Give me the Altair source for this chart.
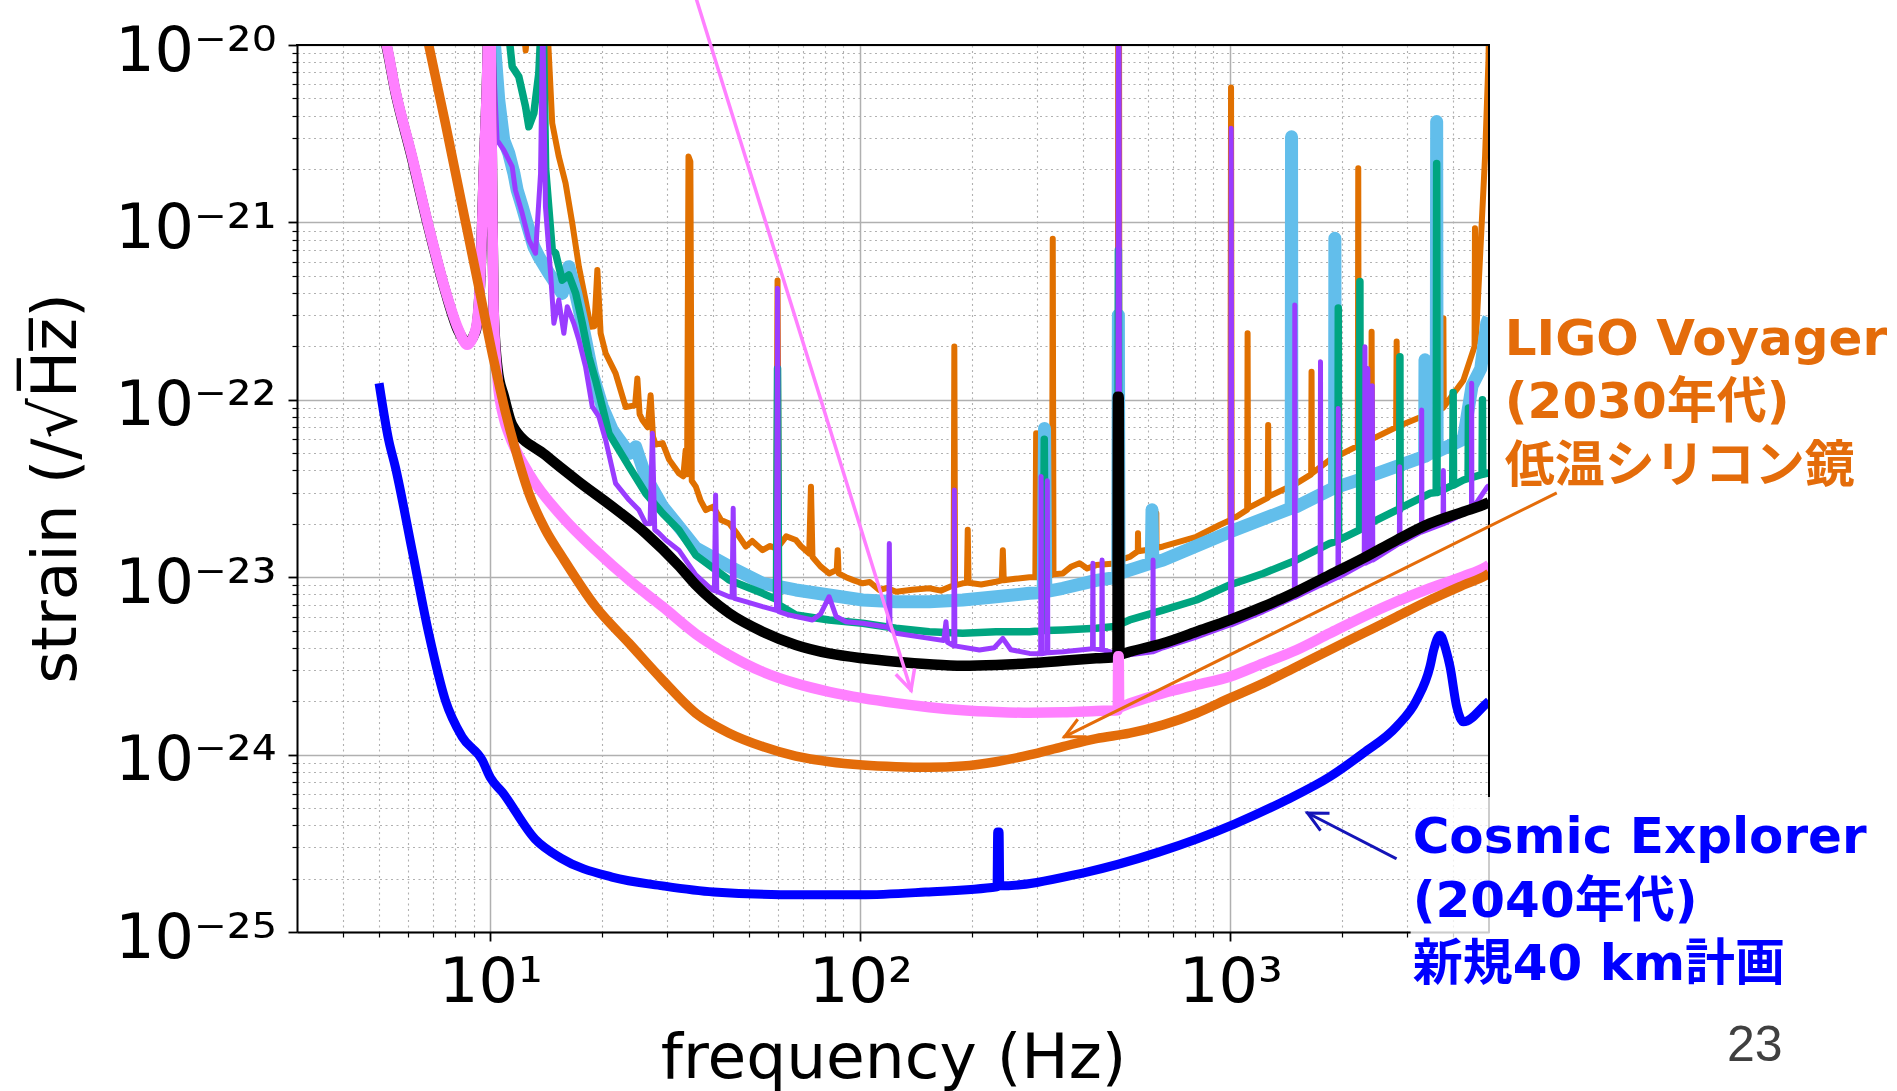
import altair as alt
import pandas as pd

# ---------------- data (frequency in Hz, strain in 1/sqrt(Hz)) ----------------
# aLIGO design sensitivity (black)
ALIGO = [(5.0, 1.3e-20), (5.2, 1.05e-20), (5.53, 5.5e-21), (6.14, 2.3e-21), (6.81, 9.3e-22),
         (7.55, 4.1e-22), (8.21, 2.42e-22), (8.65, 2.1e-22), (9.11, 2.42e-22), (9.40, 5.1e-22),
         (9.59, 1.9e-21), (9.80, 6.9e-21), (9.95, 3e-20), (10.05, 5e-21), (10.12, 1.2e-21),
         (10.2, 3.2e-22), (10.45, 1.5e-22), (10.88, 1.04e-22), (11.45, 7.21e-23), (14.08, 4.88e-23),
         (17.34, 3.45e-23), (21.35, 2.5e-23), (26.27, 1.77e-23), (32.3, 1.16e-23), (35.9, 9.04e-24),
         (44.2, 6.26e-24), (54.4, 4.93e-24), (66.9, 4.15e-24), (82.3, 3.72e-24), (101.4, 3.49e-24),
         (124.8, 3.34e-24), (153.5, 3.23e-24), (189.0, 3.17e-24), (232.6, 3.2e-24), (286.3, 3.27e-24),
         (352.5, 3.38e-24), (433.8, 3.49e-24), (495.0, 3.55e-24), (496.5, 1.04e-22), (499.0, 1.04e-22),
         (501.5, 3.66e-24), (534.0, 3.8e-24), (657.6, 4.24e-24), (809.0, 4.93e-24), (995.7, 5.74e-24),
         (1226.0, 6.82e-24), (1509.0, 8.29e-24), (1856.0, 1.03e-23), (2287.0, 1.28e-23),
         (2814.0, 1.62e-23), (3463.0, 2.01e-23), (4264.0, 2.34e-23), (4930.0, 2.61e-23),
         (5000.0, 2.65e-23)]

# A+ (pink)
APLUS = [(5.0, 1.3e-20), (5.2, 1.07e-20), (5.53, 5.58e-21), (6.14, 2.35e-21), (6.81, 9.46e-22),
         (7.55, 4.16e-22), (8.21, 2.47e-22), (8.65, 2.04e-22), (9.11, 2.47e-22), (9.40, 5.19e-22),
         (9.59, 1.9e-21), (9.80, 6.95e-21), (9.95, 3e-20), (10.05, 5e-21), (10.12, 1.2e-21),
         (10.2, 3.2e-22), (10.45, 1.3e-22), (10.9, 7.7e-23), (11.2, 6.47e-23), (12.7, 3.85e-23),
         (15.63, 2.19e-23), (19.24, 1.42e-23), (23.7, 9.64e-24), (29.2, 6.82e-24), (35.9, 4.79e-24),
         (44.2, 3.64e-24), (54.4, 2.93e-24), (66.9, 2.52e-24), (82.3, 2.26e-24), (101.4, 2.08e-24),
         (124.8, 1.95e-24), (153.5, 1.85e-24), (189.0, 1.78e-24), (232.6, 1.74e-24), (286.3, 1.72e-24),
         (352.5, 1.73e-24), (433.8, 1.76e-24), (496.0, 1.78e-24), (497.5, 3.58e-24), (499.0, 3.58e-24),
         (500.5, 1.85e-24), (534.0, 1.94e-24), (657.6, 2.22e-24), (809.0, 2.47e-24), (995.7, 2.75e-24),
         (1226.0, 3.27e-24), (1509.0, 3.89e-24), (1856.0, 4.83e-24), (2287.0, 5.99e-24),
         (2814.0, 7.28e-24), (3463.0, 8.66e-24), (4264.0, 1.01e-23), (4930.0, 1.15e-23), (5000.0, 1.17e-23)]

# LIGO Voyager (thick orange)
VOYAGER = [(6.5, 1.6e-20), (6.81, 1.0e-20), (7.55, 3.63e-21), (8.38, 1.25e-21), (9.3, 4.32e-22),
           (10.2, 1.68e-22), (10.98, 8.53e-23), (11.63, 5.42e-23), (12.7, 2.98e-23), (14.08, 1.85e-23),
           (15.63, 1.3e-23), (19.24, 6.82e-24), (23.7, 4.24e-24), (29.2, 2.63e-24), (35.9, 1.71e-24),
           (44.2, 1.32e-24), (54.4, 1.11e-24), (66.9, 9.8e-25), (82.3, 9.12e-25), (101.4, 8.74e-25),
           (124.8, 8.55e-25), (153.5, 8.48e-25), (189.0, 8.62e-25), (232.6, 9.12e-25), (286.3, 9.95e-25),
           (352.5, 1.11e-24), (433.8, 1.23e-24), (534.0, 1.32e-24), (657.6, 1.47e-24), (809.0, 1.71e-24),
           (995.7, 2.08e-24), (1226.0, 2.52e-24), (1509.0, 3.13e-24), (1856.0, 3.89e-24),
           (2287.0, 4.83e-24), (2814.0, 5.99e-24), (3463.0, 7.44e-24), (4264.0, 9.04e-24),
           (4930.0, 1.03e-23), (5000.0, 1.05e-23)]

# Cosmic Explorer (blue)
CE = [(5.0, 1.24e-22), (5.31, 5.9e-23), (5.53, 4.2e-23), (6.14, 1.42e-23), (6.81, 4.83e-24),
      (7.55, 2.03e-24), (8.38, 1.26e-24), (9.5, 9.3e-25), (10.0, 7.4e-25), (10.76, 6.15e-25),
      (13.2, 3.34e-25), (15.5, 2.61e-25), (21.3, 2.04e-25), (29.2, 1.82e-25), (40.1, 1.68e-25),
      (68.5, 1.62e-25), (100.0, 1.62e-25), (150.0, 1.68e-25), (234.0, 1.8e-25), (235.0, 3.66e-25),
      (237.0, 3.66e-25), (238.0, 1.82e-25), (399.0, 2.15e-25), (640.0, 2.82e-25), (1025.0, 4.06e-25),
      (1418.0, 5.55e-25), (1856.0, 7.5e-25), (2287.0, 1.02e-24), (2814.0, 1.44e-24), (3188.0, 2.03e-24),
      (3463.0, 3.13e-24), (3544.0, 3.89e-24), (3686.0, 4.7e-24), (3825.0, 3.89e-24), (3923.0, 3.13e-24),
      (4090.0, 1.86e-24), (4264.0, 1.53e-24), (4930.0, 1.95e-24), (5000.0, 2.0e-24)]

# measured spectrum (thin orange)
MEAS_ORANGE = [(12.2, 1.5e-20), (12.45, 9.3e-21), (12.7, 1.5e-20), (14.2, 1.5e-20), (14.69, 3.62e-21),
    (15.3, 2.35e-21), (15.96, 1.66e-21), (16.64, 9.9e-22), (17.34, 5.63e-22), (18.07, 3.65e-22),
    (18.65, 2.58e-22), (19.1, 2.6e-22), (19.45, 5.39e-22), (19.85, 2.37e-22), (20.48, 1.83e-22),
    (21.79, 1.41e-22), (23.2, 9.1e-23), (24.6, 9.3e-23), (24.95, 1.32e-22), (25.3, 8.3e-23),
    (25.74, 7.7e-23), (26.6, 7.0e-23), (27.1, 1.06e-22), (27.5, 6.2e-23), (27.96, 5.6e-23),
    (29.2, 5.7e-23), (30.4, 4.6e-23), (32.3, 3.85e-23), (33.2, 3.7e-23), (33.7, 5.2e-23),
    (34.0, 3.8e-23), (34.3, 2.35e-21), (34.7, 2.2e-21), (35.0, 3.5e-23), (35.9, 3.24e-23),
    (37.0, 2.7e-23), (38.2, 2.39e-23), (40.0, 2.5e-23), (42.0, 2.1e-23), (44.2, 2.01e-23),
    (46.5, 1.75e-23), (49.0, 1.49e-23), (51.0, 1.6e-23), (54.4, 1.42e-23), (57.0, 1.5e-23),
    (59.2, 1.45e-23), (59.7, 4.7e-22), (60.2, 1.5e-23), (63.0, 1.7e-23), (66.9, 1.62e-23),
    (69.0, 1.5e-23), (72.7, 1.36e-23), (73.5, 3.24e-23), (74.2, 1.3e-23), (78.0, 1.15e-23),
    (82.3, 1.05e-23), (86.3, 1.1e-23), (86.8, 1.42e-23), (87.3, 1.05e-23), (91.4, 1.0e-23),
    (96.0, 9.6e-24), (101.4, 9.24e-24), (106.0, 9.4e-24), (112.4, 8.47e-24), (118.0, 8.7e-24),
    (124.8, 8.29e-24), (138.0, 8.5e-24), (153.5, 8.66e-24), (165.0, 8.4e-24),
    (178.6, 9.0e-24), (179.4, 2.0e-22), (180.2, 9.0e-24), (189.0, 9.24e-24), (194.0, 9.3e-24),
    (195.0, 1.85e-23), (196.0, 9.3e-24), (212.0, 9.1e-24), (232.6, 9.43e-24), (241.0, 9.6e-24),
    (242.6, 1.42e-23), (244.0, 9.6e-24), (262.0, 9.8e-24), (286.3, 1.0e-23), (297.0, 1.0e-23),
    (298.5, 6.47e-23), (300.0, 1.0e-23), (329.5, 1.03e-23), (331.0, 8.1e-22), (332.5, 1.04e-23),
    (352.5, 1.05e-23), (372.0, 1.15e-23), (391.0, 1.2e-23), (410.0, 1.12e-23),
    (433.8, 1.17e-23), (496.0, 1.2e-23), (497.5, 2.0e-20), (500.0, 2.0e-20), (501.5, 1.25e-23),
    (534.0, 1.3e-23), (562.0, 1.4e-23), (562.6, 1.77e-23), (563.5, 1.4e-23), (630.0, 1.45e-23),
    (630.6, 2.29e-23), (631.5, 1.46e-23), (657.6, 1.49e-23), (809.0, 1.69e-23), (935.0, 1.97e-23),
    (1000.0, 2.1e-23), (1004.0, 5.76e-21), (1008.0, 2.15e-23), (1038.0, 2.19e-23), (1110.0, 2.4e-23),
    (1113.0, 2.37e-22), (1116.0, 2.45e-23), (1262.0, 2.8e-23), (1265.0, 7.21e-23), (1268.0, 2.85e-23),
    (1509.0, 3.38e-23), (1653.0, 3.8e-23), (1657.0, 1.44e-22), (1661.0, 3.85e-23), (1856.0, 4.58e-23),
    (2210.0, 5.5e-23), (2216.0, 2.02e-21), (2222.0, 5.55e-23), (2287.0, 5.69e-23), (2402.0, 6.0e-23),
    (2408.0, 2.42e-22), (2414.0, 6.0e-23), (2805.0, 7.0e-23), (2814.0, 2.13e-22), (2823.0, 7.05e-23),
    (3463.0, 8.39e-23), (3755.0, 9.0e-23), (3764.0, 2.88e-22), (3773.0, 9.1e-23), (4264.0, 1.29e-22),
    (4570.0, 2.0e-22), (4582.0, 9.26e-22), (4594.0, 2.1e-22), (4633.0, 2.71e-22), (4879.0, 2.35e-21),
    (4984.0, 8.23e-21), (5000.0, 1.2e-20)]

# measured spectrum (sky blue)
MEAS_SKY = [(10.0, 2e-20), (10.53, 4.9e-21), (10.86, 2.91e-21), (11.21, 2.45e-21), (11.57, 1.89e-21),
    (11.81, 1.52e-21), (12.18, 1.23e-21), (12.7, 9.06e-22), (13.1, 7.3e-22), (13.51, 6.41e-22),
    (14.38, 5.17e-22), (15.0, 4.54e-22), (15.63, 3.98e-22), (16.29, 5.63e-22), (17.0, 3.98e-22),
    (17.71, 2.7e-22), (18.85, 1.41e-22), (20.06, 9.14e-23), (21.35, 6.76e-23), (23.7, 4.99e-23),
    (24.69, 5.44e-23), (26.27, 3.69e-23), (29.2, 2.5e-23), (32.3, 1.93e-23), (35.9, 1.46e-23),
    (44.2, 1.15e-23), (54.4, 9.24e-24), (66.9, 8.47e-24), (82.3, 7.94e-24), (101.4, 7.44e-24),
    (124.8, 7.28e-24), (153.5, 7.28e-24), (189.0, 7.44e-24), (232.6, 7.76e-24), (286.3, 8.11e-24),
    (312.0, 8.2e-24), (314.5, 6.89e-23), (317.0, 8.3e-24), (352.5, 8.66e-24), (433.8, 9.6e-24),
    (496.0, 1.0e-23), (498.0, 3.0e-22), (500.0, 1.05e-23), (611.0, 1.2e-23), (614.0, 2.4e-23),
    (617.0, 1.2e-23), (657.6, 1.25e-23), (995.7, 1.8e-23), (1460.0, 2.45e-23), (1463.0, 3.04e-21),
    (1466.0, 2.5e-23), (1509.0, 2.5e-23), (1912.0, 3.2e-23), (1916.0, 8.13e-22), (1920.0, 3.2e-23),
    (2287.0, 3.61e-23), (3350.0, 4.8e-23), (3357.0, 1.68e-22), (3364.0, 4.8e-23), (3463.0, 4.99e-23),
    (3600.0, 5.1e-23), (3610.0, 3.7e-21), (3620.0, 5.1e-23), (4264.0, 6.0e-23), (4500.0, 1.2e-22),
    (4750.0, 1.5e-22), (4930.0, 2.7e-22), (5000.0, 2.9e-22)]

# measured spectrum (green)
MEAS_GREEN = [(10.9, 2e-20), (11.45, 7.55e-21), (11.93, 6.63e-21), (12.44, 4.49e-21), (12.7, 3.46e-21),
    (13.1, 4.12e-21), (13.51, 6.92e-21), (13.85, 2e-20), (14.1, 2.0e-21), (14.69, 6.99e-22),
    (15.0, 6.7e-22), (15.63, 4.73e-22), (16.29, 5.05e-22), (17.0, 3.98e-22), (17.71, 2.7e-22),
    (18.45, 1.75e-22), (19.24, 1.29e-22), (20.06, 9.14e-23), (20.9, 6.47e-23), (23.7, 4.2e-23),
    (26.27, 2.97e-23), (29.2, 2.29e-23), (32.3, 1.85e-23), (35.9, 1.33e-23), (44.2, 9.64e-24),
    (54.4, 8.11e-24), (59.3, 7.5e-24), (59.7, 1.5e-22), (60.1, 7.0e-24), (66.9, 6.12e-24),
    (82.3, 5.74e-24), (101.4, 5.5e-24), (124.8, 5.15e-24), (153.5, 4.93e-24), (189.0, 4.83e-24),
    (232.6, 4.93e-24), (286.3, 4.93e-24), (312.0, 5.0e-24), (314.0, 6.0e-23), (316.0, 5.0e-24),
    (352.5, 5.04e-24), (433.8, 5.15e-24), (496.0, 5.3e-24), (498.0, 7.0e-22), (500.0, 5.4e-24),
    (534.0, 5.74e-24), (657.6, 6.53e-24), (809.0, 7.44e-24), (995.7, 9.04e-24), (1226.0, 1.05e-23),
    (1509.0, 1.25e-23), (1856.0, 1.55e-23), (1953.0, 1.6e-23), (1957.0, 3.29e-22), (1961.0, 1.62e-23),
    (2235.0, 1.85e-23), (2239.0, 4.64e-22), (2243.0, 1.9e-23), (2287.0, 1.93e-23), (2814.0, 2.39e-23),
    (2868.0, 2.4e-23), (2872.0, 1.75e-22), (2876.0, 2.45e-23), (3463.0, 2.97e-23), (3600.0, 3.0e-23),
    (3610.0, 2.15e-21), (3620.0, 3.0e-23), (3990.0, 3.3e-23), (4000.0, 1.1e-22), (4010.0, 3.3e-23),
    (4264.0, 3.53e-23), (4390.0, 3.6e-23), (4400.0, 9.0e-23), (4410.0, 3.6e-23), (4790.0, 3.8e-23),
    (4800.0, 1.0e-22), (4810.0, 3.8e-23), (4930.0, 3.85e-23), (5000.0, 3.9e-23)]

# measured spectrum (purple)
MEAS_PURPLE = [(10.0, 2e-20), (10.42, 2.91e-21), (10.86, 2.56e-21), (11.45, 2.06e-21), (11.68, 1.52e-21),
    (12.18, 1.13e-21), (12.7, 7.96e-22), (13.24, 6.7e-22), (13.66, 1.89e-21), (13.85, 1.5e-20),
    (14.08, 1.23e-21), (14.54, 5.17e-22), (14.84, 2.7e-22), (15.3, 3.65e-22), (15.79, 2.37e-22),
    (16.13, 3.35e-22), (16.8, 2.7e-22), (17.34, 2.17e-22), (18.07, 1.54e-22), (18.85, 9.14e-23),
    (19.64, 8.03e-23), (20.48, 5.93e-23), (21.79, 3.38e-23), (23.7, 2.72e-23), (25.2, 2.39e-23),
    (26.27, 2.01e-23), (27.0, 2.0e-23), (27.4, 6.47e-23), (27.8, 1.85e-23), (28.54, 1.77e-23),
    (29.76, 1.62e-23), (32.3, 1.42e-23), (35.9, 1.03e-23), (39.8, 8.47e-24), (40.3, 8.4e-24),
    (40.6, 2.91e-23), (40.9, 8.3e-24), (44.2, 7.76e-24), (45.0, 7.7e-24), (45.3, 2.45e-23),
    (45.6, 7.6e-24), (49.0, 7.28e-24), (54.4, 6.82e-24), (59.3, 6.5e-24), (59.7, 4.25e-22),
    (60.1, 6.4e-24), (64.2, 6.12e-24), (74.2, 5.74e-24), (78.0, 6.2e-24), (82.3, 7.76e-24),
    (86.0, 6.0e-24), (91.4, 5.61e-24), (101.4, 5.5e-24), (119.2, 5.2e-24), (119.7, 1.55e-23),
    (120.2, 5.1e-24), (124.8, 4.83e-24), (153.5, 4.52e-24), (168.0, 4.4e-24), (170.3, 5.61e-24),
    (172.0, 4.3e-24), (178.8, 4.1e-24), (179.4, 3.1e-23), (180.0, 4.1e-24), (209.7, 3.89e-24),
    (230.0, 4.0e-24), (242.6, 4.52e-24), (255.0, 3.9e-24), (286.3, 3.72e-24), (307.0, 3.7e-24),
    (307.9, 3.69e-23), (309.0, 3.7e-24), (319.0, 3.75e-24), (320.0, 3.5e-23), (321.0, 3.75e-24),
    (352.5, 3.8e-24), (424.0, 3.95e-24), (425.0, 1.2e-23), (426.0, 3.95e-24), (449.0, 3.9e-24),
    (450.0, 1.25e-23), (451.0, 3.9e-24), (496.0, 3.7e-24), (498.0, 2.0e-20), (500.0, 2.0e-20),
    (502.0, 3.6e-24), (617.0, 3.8e-24), (618.0, 1.25e-23), (619.0, 3.8e-24), (657.6, 4.0e-24),
    (809.0, 4.6e-24), (1001.0, 5.4e-24), (1005.0, 3.39e-21), (1009.0, 5.4e-24), (1226.0, 6.4e-24),
    (1489.0, 7.7e-24), (1493.0, 3.42e-22), (1497.0, 7.7e-24), (1748.0, 9.0e-24), (1752.0, 1.64e-22),
    (1756.0, 9.0e-24), (1953.0, 1.0e-23), (1957.0, 8.93e-23), (1961.0, 1.0e-23), (2300.0, 1.2e-23),
    (2310.0, 1.99e-22), (2320.0, 1.2e-23), (2345.0, 1.22e-23), (2352.0, 1.5e-22), (2360.0, 1.22e-23),
    (2410.0, 1.25e-23), (2418.0, 1.2e-22), (2426.0, 1.25e-23), (2862.0, 1.55e-23), (2868.0, 4.2e-23),
    (2874.0, 1.55e-23), (3284.0, 1.8e-23), (3289.0, 8.76e-23), (3294.0, 1.8e-23), (3756.0, 2.0e-23),
    (3764.0, 4.0e-23), (3772.0, 2.0e-23), (4484.0, 2.4e-23), (4489.0, 1.24e-22), (4494.0, 2.4e-23),
    (4930.0, 3.2e-23), (5000.0, 3.3e-23)]

# axis ticks
X_TICKS = [4, 5, 6, 7, 8, 9, 10, 20, 30, 40, 50, 60, 70, 80, 90, 100, 200, 300, 400, 500,
           600, 700, 800, 900, 1000, 2000, 3000, 4000]
Y_DECADES = [1e-25, 1e-24, 1e-23, 1e-22, 1e-21]
Y_MULT = [1, 2, 3, 4, 5, 6, 7, 8, 9]
Y_TICKS = [m * d for d in Y_DECADES for m in Y_MULT] + [1e-20]

# annotations: (freq, strain) anchors
ANN_VOYAGER = (5515, 1.789e-22, ["LIGO Voyager", "(2030年代)", "低温シリコン鏡"])
ANN_CE = (3109, 2.788e-25, ["Cosmic Explorer", "(2040年代)", "新規40 km計画"])
ANN_PAGE = (21996, 1.875e-26, "23")
ARROW_PINK = [(35.4, 2.04e-20), (137.0, 2.31e-24)]
ARROW_ORANGE = [(7558.0, 2.96e-23), (356.1, 1.26e-24)]
ARROW_BLUE = [(2790.0, 2.61e-25), (1616.0, 4.69e-25)]
LEGEND_BOX = (3070, 9000, 7e-26, 5.77e-25)
SPINE_TOP = [(3, 1e-20), (5000, 1e-20)]
SPINE_RIGHT = [(5000, 1e-25), (5000, 1e-20)]

# ---------------- chart ----------------
W, H = 1192, 887
FONT = "DejaVu Sans"
JFONT = "DejaVu Sans, Noto Sans CJK JP"
MAJOR = "abs(log(datum.value)/LN10 - round(log(datum.value)/LN10)) < 0.01"


def cond(a, b):
    return {"condition": {"test": MAJOR, "value": a}, "value": b}


def lg(e):
    return "abs(log(datum.value)/LN10 + %d) < 0.01" % e


SUP = {20: "⁻²⁰", 21: "⁻²¹", 22: "⁻²²", 23: "⁻²³", 24: "⁻²⁴", 25: "⁻²⁵"}
y_label_expr = " : ".join("%s ? '10%s'" % (lg(e), s) for e, s in SUP.items()) + " : ''"
x_label_expr = ("datum.value == 10 ? '10¹' : datum.value == 100 ? '10²' : "
                "datum.value == 1000 ? '10³' : ''")

common_axis = dict(
    labelFont=FONT, labelFontSize=62, labelColor="black", labelOverlap=False,
    labelFlush=False, labelBound=False, labelLimit=600,
    tickColor="black", tickSize=cond(9, 5), tickWidth=cond(1.8, 1.2),
    grid=True, gridColor="#b0b0b0", gridWidth=cond(1.5, 1.1), gridDash=cond([], [2, 3.5]),
    domainColor="black", domainWidth=2, zindex=0,
    titleFont=FONT, titleFontSize=63, titleFontWeight="normal", titleColor="black",
    titleLimit=2000,
)

x_axis = alt.Axis(values=X_TICKS, labelExpr=x_label_expr, title="frequency (Hz)",
                  labelBaseline="alphabetic", labelPadding=60,
                  titleBaseline="alphabetic", titleY=145, **common_axis)
y_axis = alt.Axis(values=Y_TICKS, labelExpr=y_label_expr, title="strain (/\u221aH\u0305z\u0305)",
                  labelAlign="right", labelBaseline="alphabetic", labelOffset=25, labelPadding=12,
                  titleAngle=270, titleAlign="center", titleBaseline="alphabetic",
                  titleX=-222, titleY=443, **common_axis)

xs = alt.Scale(type="log", domain=[3, 5000], nice=False)
ys = alt.Scale(type="log", domain=[1e-25, 1e-20], nice=False)


def X(field="f"):
    return alt.X(f"{field}:Q", scale=xs, axis=x_axis)


def Y(field="h"):
    return alt.Y(f"{field}:Q", scale=ys, axis=y_axis)


def frame(pairs):
    return pd.DataFrame({"f": [p[0] for p in pairs], "h": [p[1] for p in pairs],
                         "i": list(range(len(pairs)))})


def curve(pairs, color, width, smooth=False):
    kw = dict(interpolate="monotone") if smooth else {}
    return alt.Chart(frame(pairs)).mark_line(
        color=color, strokeWidth=width, clip=True, strokeJoin="round", strokeCap="butt", **kw
    ).encode(x=X(), y=Y(), order=alt.Order("i:Q"))


def segment(pairs, color, width):
    return alt.Chart(frame(pairs)).mark_line(
        color=color, strokeWidth=width, clip=False, strokeCap="square"
    ).encode(x=X(), y=Y(), order=alt.Order("i:Q"))


CHEVRON = "M -1 -0.5 L 0 0 L -1 0.5"


def arrow(pairs, color, width, angle):
    line = segment(pairs, color, width)
    head = alt.Chart(frame(pairs[1:])).mark_point(
        shape=CHEVRON, filled=False, stroke=color, strokeWidth=width, size=1550,
        angle=angle, opacity=1, clip=False, strokeJoin="miter").encode(x=X(), y=Y())
    return [line, head]


def label(ann, color, size, font, weight):
    f, h, txt = ann
    return alt.Chart(frame([(f, h)])).mark_text(
        text=txt, color=color, fontSize=size, font=font, fontWeight=weight,
        align="left", baseline="alphabetic", lineHeight=63.5, clip=False
    ).encode(x=X(), y=Y())


bx = LEGEND_BOX
box = alt.Chart(pd.DataFrame({"f": [bx[0]], "f2": [bx[1]], "h": [bx[2]], "h2": [bx[3]]})).mark_rect(
    fill="white", opacity=0.8, clip=False).encode(x=X(), x2="f2:Q", y=Y(), y2="h2:Q")

ORANGE_TXT = "#E46C0A"
layers = [
    curve(MEAS_ORANGE, "#E07000", 6),
    curve(MEAS_SKY, "#62BEEB", 13),
    curve(MEAS_GREEN, "#00A580", 7.5),
    curve(MEAS_PURPLE, "#9A3CFF", 5),
    curve(ALIGO, "black", 10.5, smooth=True),
    curve(APLUS, "#FF80FF", 10.5, smooth=True),
    curve(VOYAGER, "#E36C0A", 9.5, smooth=True),
    curve(CE, "#0000FF", 9, smooth=True),
    segment(SPINE_TOP, "black", 2),
    segment(SPINE_RIGHT, "black", 2),
    box,
]
layers += arrow(ARROW_PINK, "#FF80FF", 3.5, 72.8)
layers += arrow(ARROW_ORANGE, ORANGE_TXT, 3, 153.6)
layers += arrow(ARROW_BLUE, "#1414B8", 3, 207.2)
layers += [
    label(ANN_VOYAGER, ORANGE_TXT, 50, JFONT, "bold"),
    label(ANN_CE, "#0000FF", 50, JFONT, "bold"),
    label(ANN_PAGE, "#404040", 50, "Liberation Sans", "normal"),
]

chart = alt.layer(*layers).properties(
    width=W, height=H,
    autosize=alt.AutoSizeParams(type="none"),
    padding={"left": 297, "top": 45, "right": 408, "bottom": 159},
    background="white",
).configure_view(stroke="transparent")

chart.save("out.html", embed_options={"renderer": "svg", "actions": False})
